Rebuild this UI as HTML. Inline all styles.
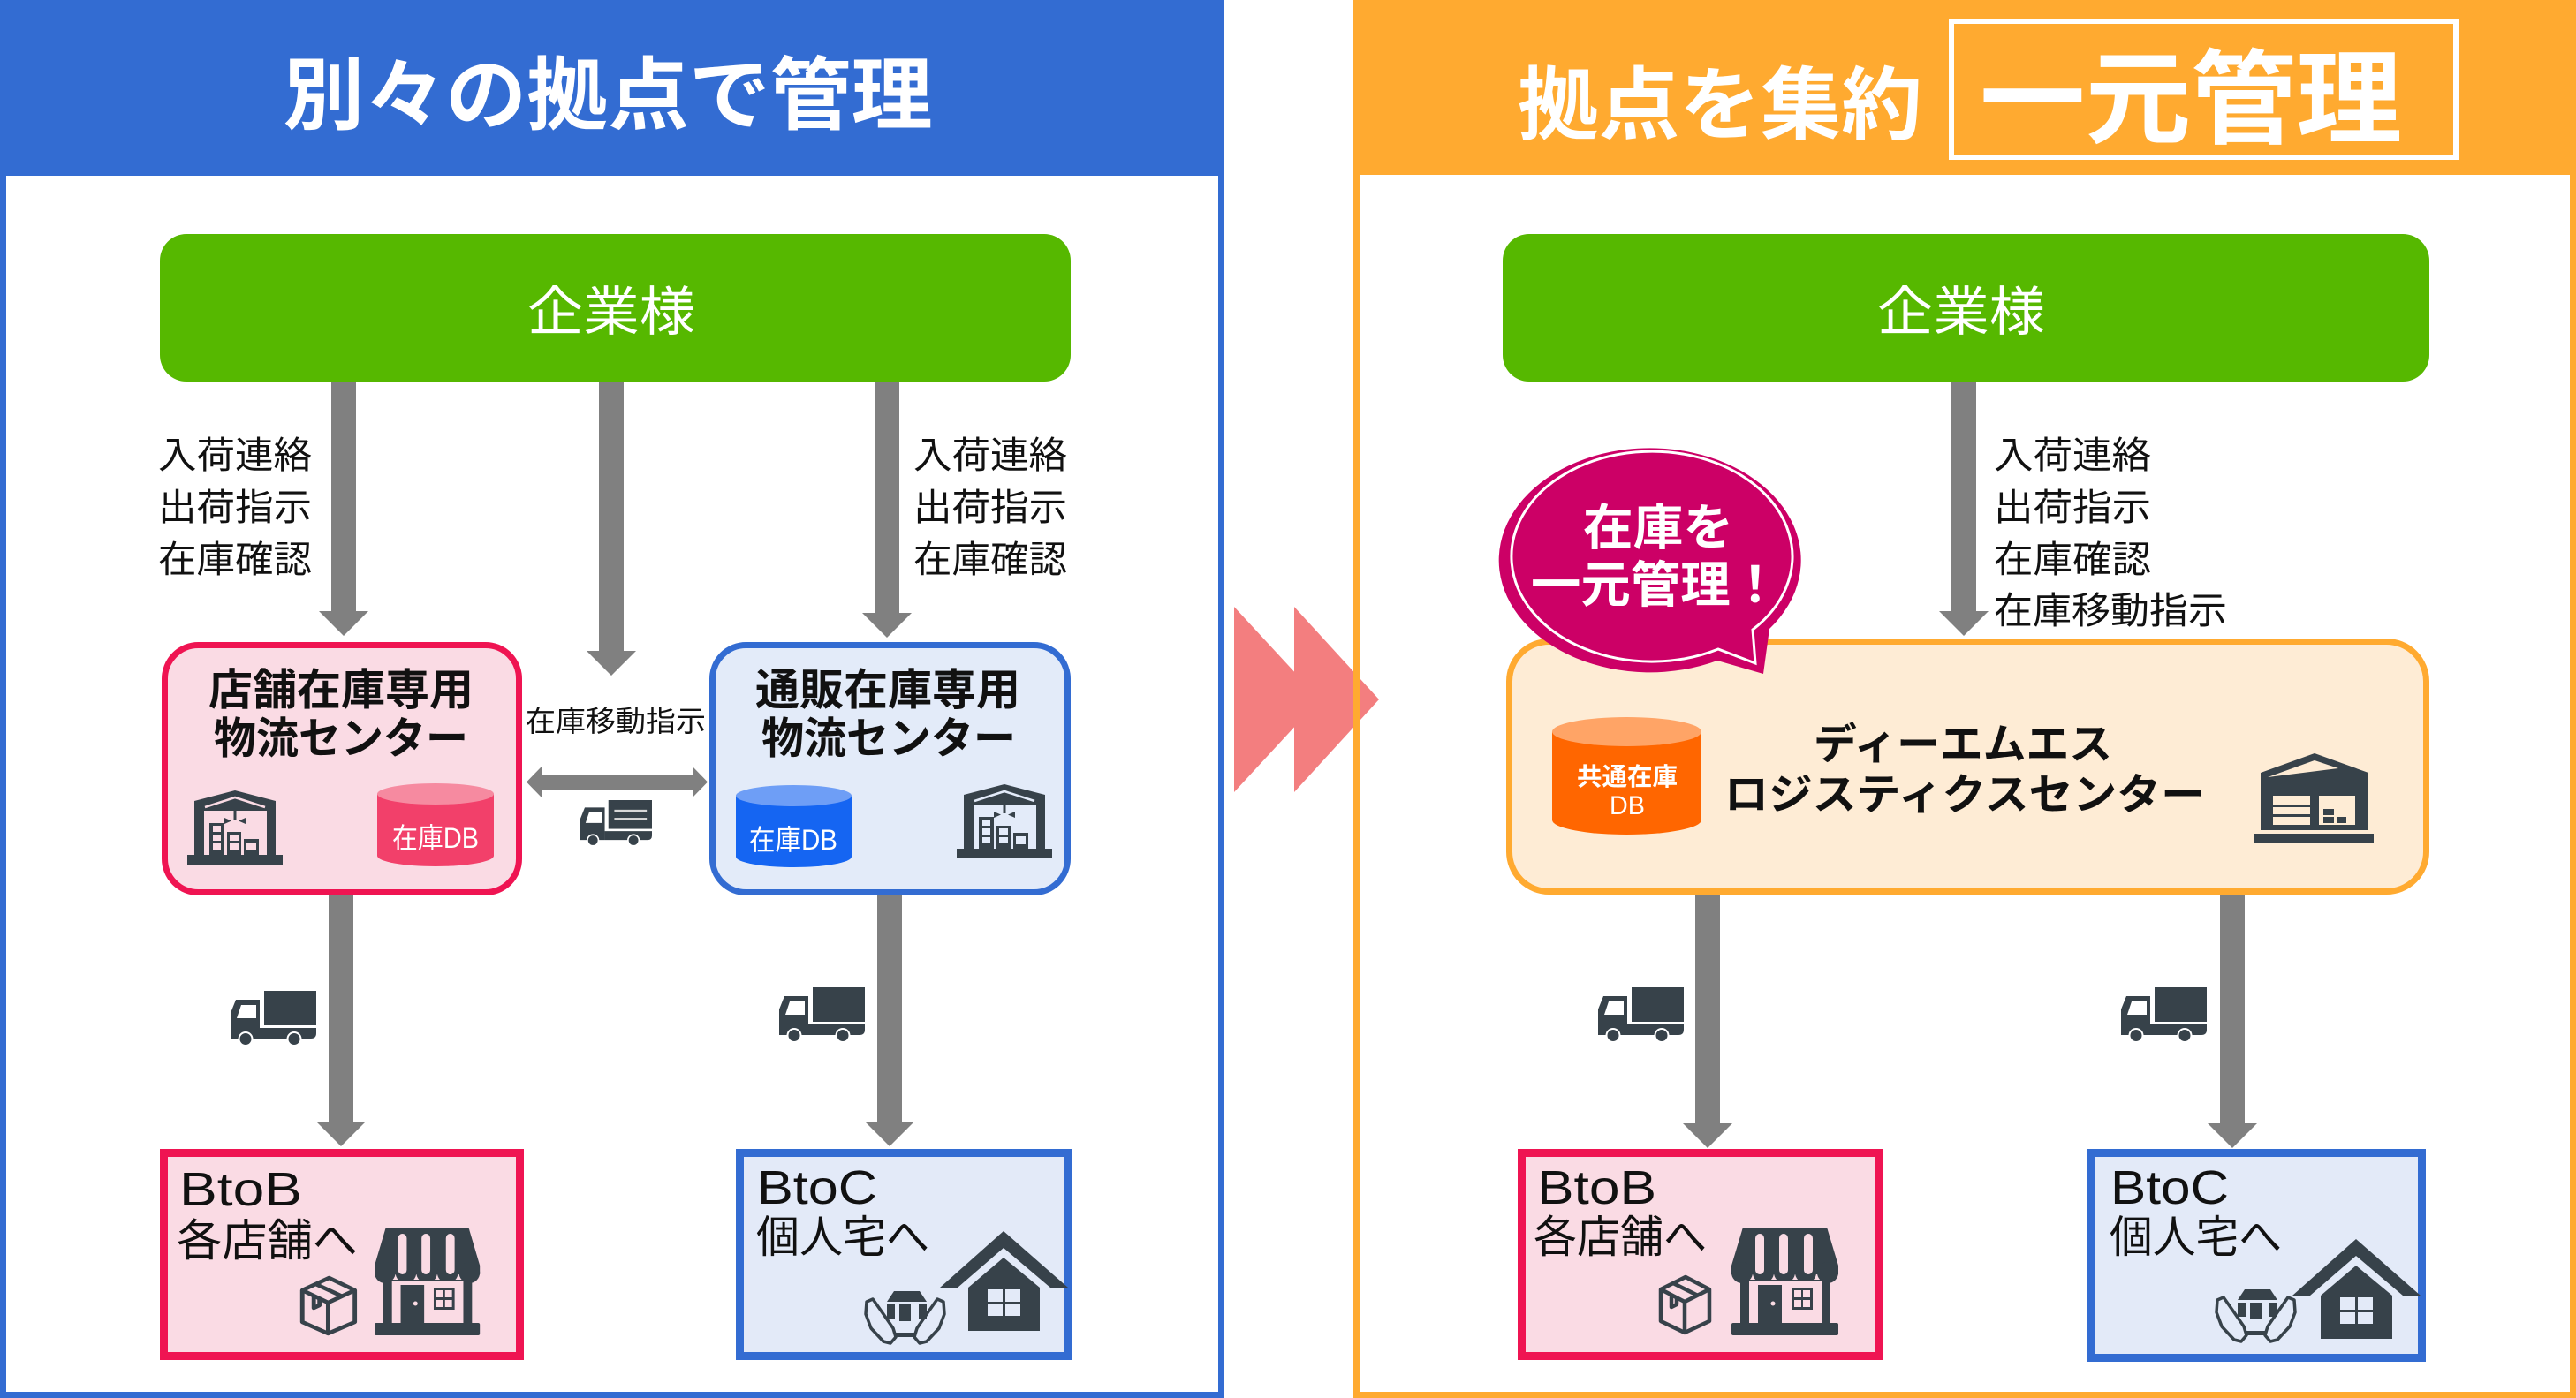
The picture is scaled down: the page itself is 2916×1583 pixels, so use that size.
<!DOCTYPE html>
<html>
<head>
<meta charset="utf-8">
<style>
html,body{margin:0;padding:0;background:#fff;}
svg{display:block;}
text{font-family:"Liberation Sans","Noto Sans CJK JP",sans-serif;}
</style>
</head>
<body>
<svg xmlns="http://www.w3.org/2000/svg" width="2916" height="1583" viewBox="0 0 2916 1583">
<defs>
  <g id="truck">
    <rect x="38" y="0" width="59" height="39" fill="#37424a"/>
    <path d="M6 10 H33 V54 H0 V25 Z" fill="#37424a"/>
    <path d="M12 16 H29 V31 H7 Z" fill="#fff"/>
    <path d="M33 42 H97 V48 Q97 54 91 54 H33 Z" fill="#37424a"/>
    <circle cx="17" cy="54.5" r="7.5" fill="#37424a" stroke="#fff" stroke-width="2"/>
    <circle cx="72" cy="54.5" r="7.5" fill="#37424a" stroke="#fff" stroke-width="2"/>
  </g>
  <g id="whA">
    <rect x="0" y="75" width="108" height="11" fill="#37424a"/>
    <path d="M8 14 L54 2 L100 14 V75 H8 Z" fill="#37424a"/>
    <rect x="19" y="25" width="71" height="50" fill="currentColor"/>
    <path d="M20 21 L54 10 L88 21" stroke="currentColor" stroke-width="2.5" fill="none"/>
    <rect x="52.5" y="25" width="3" height="10" fill="#37424a"/>
    <path d="M42 33 L50 36.5 L42 40 Z M66 33 L58 36.5 L66 40 Z" fill="#37424a"/>
    <rect x="25" y="39" width="17" height="36" fill="#37424a"/>
    <rect x="29" y="42" width="9" height="7" fill="currentColor"/>
    <rect x="29" y="52" width="9" height="7" fill="currentColor"/>
    <rect x="29" y="62" width="9" height="7" fill="currentColor"/>
    <rect x="45" y="49" width="16" height="26" fill="#37424a"/>
    <rect x="48" y="52" width="10" height="7" fill="currentColor"/>
    <rect x="48" y="62" width="10" height="7" fill="currentColor"/>
    <rect x="64" y="57" width="17" height="18" fill="#37424a"/>
    <rect x="67" y="61" width="11" height="9" fill="currentColor"/>
  </g>
  <g id="whB">
    <rect x="0" y="91" width="135" height="11" fill="#37424a"/>
    <path d="M7 22 L68 0 L129 22 V87 H7 Z" fill="#37424a"/>
    <path d="M15 27 L68 8 L95 17 Z" fill="#feecd5"/>
    <rect x="21" y="48" width="42" height="33" fill="#feecd5"/>
    <rect x="21" y="58" width="42" height="3" fill="#37424a"/>
    <rect x="21" y="69" width="42" height="3" fill="#37424a"/>
    <rect x="73" y="48" width="41" height="33" fill="#feecd5"/>
    <rect x="78" y="63" width="12" height="7" fill="#37424a"/>
    <rect x="78" y="72" width="12" height="7" fill="#37424a"/>
    <rect x="93" y="72" width="11" height="7" fill="#37424a"/>
  </g>
  <g id="shop">
    <path d="M12 4 Q12 1 16 1 H105 Q109 1 109 4 L121 44 V54 H0 V44 Z" fill="#37424a"/>
    <circle cx="12" cy="52" r="12" fill="#37424a"/>
    <circle cx="36" cy="52" r="12" fill="#37424a"/>
    <circle cx="60" cy="52" r="12" fill="#37424a"/>
    <circle cx="84" cy="52" r="12" fill="#37424a"/>
    <circle cx="109" cy="52" r="12" fill="#37424a"/>
    <rect x="27" y="8" width="10" height="46" rx="5" fill="currentColor"/>
    <rect x="54" y="8" width="10" height="46" rx="5" fill="currentColor"/>
    <rect x="82" y="8" width="10" height="46" rx="5" fill="currentColor"/>
    <rect x="10" y="60" width="102" height="52" fill="#37424a"/>
    <rect x="20" y="62" width="82" height="48" fill="currentColor"/>
    <rect x="30" y="66" width="27" height="45" fill="#37424a"/>
    <circle cx="47" cy="87" r="2.5" fill="currentColor"/>
    <rect x="68" y="69" width="24" height="25" fill="#37424a"/>
    <rect x="71" y="72" width="8" height="8" fill="currentColor"/>
    <rect x="81" y="72" width="8" height="8" fill="currentColor"/>
    <rect x="71" y="83" width="8" height="8" fill="currentColor"/>
    <rect x="81" y="83" width="8" height="8" fill="currentColor"/>
    <rect x="0" y="109" width="121" height="14" rx="2" fill="#37424a"/>
  </g>
  <g id="box" fill="none" stroke="#37424a" stroke-width="4.5" stroke-linejoin="round">
    <path d="M3 18 L31 4 L58 18 V54 L30 67 L3 54 Z"/>
    <path d="M3 18 L30 32 L58 18"/>
    <path d="M30 32 V67"/>
    <path d="M17 11 L45 25"/>
    <path d="M15 24 V38 L21 35 V27"/>
  </g>
  <g id="house">
    <path d="M0 64 L72 0 L145 64 H125 L72 19 L20 64 Z" fill="#37424a"/>
    <path d="M32 64 L72 30 L113 64 V113 H32 Z" fill="#37424a"/>
    <rect x="54" y="66" width="37" height="30" fill="currentColor"/>
    <rect x="71" y="66" width="3" height="30" fill="#37424a"/>
    <rect x="54" y="80" width="37" height="3" fill="#37424a"/>
  </g>
  <g id="hands">
    <path d="M26 16 L34 4 H63 L71 16 Z" fill="#37424a"/>
    <rect x="26" y="19" width="9" height="16" fill="#37424a"/>
    <rect x="62" y="19" width="9" height="16" fill="#37424a"/>
    <rect x="40" y="19" width="13" height="19" fill="#37424a"/>
    <rect x="36" y="51" width="22" height="5" fill="#37424a"/>
    <path d="M3 16 L10 13 L22 30 L33 46 L36 56 L30 63 L22 61 L8 46 L2 30 Z" fill="none" stroke="#37424a" stroke-width="3.5" stroke-linejoin="round"/>
    <path d="M90 16 L83 13 L71 30 L60 46 L57 56 L63 63 L71 61 L85 46 L91 30 Z" fill="none" stroke="#37424a" stroke-width="3.5" stroke-linejoin="round"/>
  </g>
</defs>

<!-- page background -->
<rect x="0" y="0" width="2916" height="1583" fill="#fff"/>

<!-- Left panel -->
<rect x="0" y="0" width="1386" height="1583" fill="#336cd2"/>
<rect x="7" y="199" width="1372" height="1377" fill="#fff"/>
<text x="688" y="139" font-size="90" font-weight="bold" fill="#fff" text-anchor="middle" textLength="735" lengthAdjust="spacingAndGlyphs">別々の拠点で管理</text>

<!-- Right panel -->
<rect x="1532" y="0" width="1384" height="1583" fill="#ffaa30"/>
<rect x="1539" y="198" width="1370" height="1378" fill="#fff"/>
<text x="1947" y="150" font-size="90" font-weight="bold" fill="#fff" text-anchor="middle" textLength="458" lengthAdjust="spacingAndGlyphs">拠点を集約</text>
<rect x="2209" y="24" width="571" height="154" fill="none" stroke="#fff" stroke-width="6"/>
<text x="2480" y="153" font-size="116" font-weight="bold" fill="#fff" text-anchor="middle" textLength="478" lengthAdjust="spacingAndGlyphs">一元管理</text>

<!-- chevrons -->
<polygon points="1397,687 1494,792 1397,897" fill="#f37e7f"/>
<polygon points="1465,687 1561,792 1465,897" fill="#f37e7f"/>
<rect x="1532" y="600" width="7" height="400" fill="#ffaa30"/>

<!-- arrows -->
<g fill="#808080">
  <path d="M375 432 H403 V692 H417 L389 720 L361 692 H375 Z"/>
  <path d="M678 432 H706 V737 H720 L692 765 L664 737 H678 Z"/>
  <path d="M990 432 H1018 V694 H1032 L1004 722 L976 694 H990 Z"/>
  <path d="M372 1014 H400 V1270 H414 L386 1298 L358 1270 H372 Z"/>
  <path d="M993 1014 H1021 V1270 H1035 L1007 1298 L979 1270 H993 Z"/>
  <path d="M2209 432 H2237 V692 H2251 L2223 720 L2195 692 H2209 Z"/>
  <path d="M1919 1013 H1947 V1272 H1961 L1933 1300 L1905 1272 H1919 Z"/>
  <path d="M2513 1013 H2541 V1272 H2555 L2527 1300 L2499 1272 H2513 Z"/>
  <polygon points="596,885.5 613,868 613,878 784,878 784,868 801,885.5 784,903 784,894 613,894 613,903"/>
</g>

<!-- green boxes -->
<rect x="181" y="265" width="1031" height="167" rx="30" fill="#56b800"/>
<text x="692" y="374" font-size="60" fill="#fff" text-anchor="middle" textLength="190" lengthAdjust="spacingAndGlyphs">企業様</text>
<rect x="1701" y="265" width="1049" height="167" rx="30" fill="#56b800"/>
<text x="2220" y="374" font-size="60" fill="#fff" text-anchor="middle" textLength="190" lengthAdjust="spacingAndGlyphs">企業様</text>

<!-- labels left panel -->
<g font-size="42" fill="#111">
  <text x="179" y="530" textLength="174" lengthAdjust="spacingAndGlyphs">入荷連絡</text>
  <text x="179" y="589" textLength="174" lengthAdjust="spacingAndGlyphs">出荷指示</text>
  <text x="179" y="648" textLength="174" lengthAdjust="spacingAndGlyphs">在庫確認</text>
  <text x="1034" y="530" textLength="174" lengthAdjust="spacingAndGlyphs">入荷連絡</text>
  <text x="1034" y="589" textLength="174" lengthAdjust="spacingAndGlyphs">出荷指示</text>
  <text x="1034" y="648" textLength="174" lengthAdjust="spacingAndGlyphs">在庫確認</text>
  <text x="2257" y="530" textLength="178" lengthAdjust="spacingAndGlyphs">入荷連絡</text>
  <text x="2257" y="589" textLength="178" lengthAdjust="spacingAndGlyphs">出荷指示</text>
  <text x="2257" y="648" textLength="178" lengthAdjust="spacingAndGlyphs">在庫確認</text>
  <text x="2257" y="706" textLength="264" lengthAdjust="spacingAndGlyphs">在庫移動指示</text>
</g>
<text x="595" y="828" font-size="33" fill="#111" textLength="204" lengthAdjust="spacingAndGlyphs">在庫移動指示</text>

<!-- red center box -->
<rect x="186.5" y="730.5" width="401" height="280" rx="38" fill="#fadbe4" stroke="#ef1452" stroke-width="7"/>
<text x="386" y="798" font-size="49" font-weight="bold" fill="#111" text-anchor="middle" textLength="300" lengthAdjust="spacingAndGlyphs">店舗在庫専用</text>
<text x="386" y="853" font-size="49" font-weight="bold" fill="#111" text-anchor="middle" textLength="288" lengthAdjust="spacingAndGlyphs">物流センター</text>
<use href="#whA" transform="translate(212,893)" color="#fadbe4"/>
<path d="M427 899 V969 A66 12 0 0 0 559 969 V899 Z" fill="#f2406a"/>
<ellipse cx="493" cy="899" rx="66" ry="12" fill="#f68aa0"/>
<text x="493" y="960" font-size="32" fill="#fff" text-anchor="middle" textLength="98" lengthAdjust="spacingAndGlyphs">在庫DB</text>

<!-- blue center box -->
<rect x="806.5" y="730.5" width="402" height="280" rx="38" fill="#e3ebf9" stroke="#336cd2" stroke-width="7"/>
<text x="1005" y="798" font-size="49" font-weight="bold" fill="#111" text-anchor="middle" textLength="300" lengthAdjust="spacingAndGlyphs">通販在庫専用</text>
<text x="1006" y="853" font-size="49" font-weight="bold" fill="#111" text-anchor="middle" textLength="288" lengthAdjust="spacingAndGlyphs">物流センター</text>
<use href="#whA" transform="translate(1083,886)" color="#e3ebf9"/>
<path d="M833 901 V970 A65.5 12 0 0 0 964 970 V901 Z" fill="#1565f2"/>
<ellipse cx="898.5" cy="901" rx="65.5" ry="12" fill="#6e9ef6"/>
<text x="898" y="962" font-size="32" fill="#fff" text-anchor="middle" textLength="100" lengthAdjust="spacingAndGlyphs">在庫DB</text>

<!-- small truck with lines -->
<g transform="translate(657,906) scale(0.835)">
  <use href="#truck"/>
  <rect x="46" y="13" width="44" height="3" fill="#d8d8d8"/>
  <rect x="46" y="24" width="44" height="3" fill="#d8d8d8"/>
</g>

<!-- trucks -->
<use href="#truck" transform="translate(261,1122)"/>
<use href="#truck" transform="translate(882,1118)"/>
<use href="#truck" transform="translate(1809,1118)"/>
<use href="#truck" transform="translate(2401,1118)"/>

<!-- Left BtoB -->
<rect x="185.5" y="1305.5" width="403" height="230" fill="#fadbe4" stroke="#ef1452" stroke-width="9"/>
<text x="203" y="1365" font-size="54" fill="#111" textLength="139" lengthAdjust="spacingAndGlyphs">BtoB</text>
<text x="200" y="1422" font-size="50" fill="#111" textLength="205" lengthAdjust="spacingAndGlyphs">各店舗へ</text>
<use href="#shop" transform="translate(424,1389) scale(0.985,1)" color="#fadbe4"/>
<use href="#box" transform="translate(339,1443) scale(1.08,1)"/>

<!-- Left BtoC -->
<rect x="837.5" y="1305.5" width="372" height="230" fill="#e3eaf8" stroke="#336cd2" stroke-width="9"/>
<text x="857" y="1363" font-size="54" fill="#111" textLength="136" lengthAdjust="spacingAndGlyphs">BtoC</text>
<text x="856" y="1418" font-size="50" fill="#111" textLength="196" lengthAdjust="spacingAndGlyphs">個人宅へ</text>
<use href="#house" transform="translate(1064,1394)" color="#e3eaf8"/>
<use href="#hands" transform="translate(978,1458)"/>

<!-- Right orange center box -->
<rect x="1708.5" y="726.5" width="1038" height="283" rx="45" fill="#feecd5" stroke="#ffaa30" stroke-width="7"/>
<path d="M1757 828.5 V928.5 A84.5 16.5 0 0 0 1926 928.5 V828.5 Z" fill="#ff6600"/>
<ellipse cx="1841.5" cy="828.5" rx="84.5" ry="16.5" fill="#ffa466"/>
<text x="1842" y="889" font-size="28" font-weight="bold" fill="#fff" text-anchor="middle" textLength="114" lengthAdjust="spacingAndGlyphs">共通在庫</text>
<text x="1842" y="922" font-size="30" fill="#fff" text-anchor="middle" textLength="40" lengthAdjust="spacingAndGlyphs">DB</text>
<text x="2222" y="859" font-size="48" font-weight="bold" fill="#111" text-anchor="middle" textLength="338" lengthAdjust="spacingAndGlyphs">ディーエムエス</text>
<text x="2224" y="916" font-size="48" font-weight="bold" fill="#111" text-anchor="middle" textLength="544" lengthAdjust="spacingAndGlyphs">ロジスティクスセンター</text>
<use href="#whB" transform="translate(2552,853)"/>

<!-- speech bubble -->
<path d="M1944 748 L1996 763 L2003 712 A171 127 0 1 0 1944 748 Z" fill="#cc0066"/>
<path d="M1945 735 L1987 751 L1984 713 A159 119 0 1 0 1945 735 Z" fill="none" stroke="#fff" stroke-width="3"/>
<text x="1877" y="617" font-size="56" font-weight="bold" fill="#fff" text-anchor="middle" textLength="170" lengthAdjust="spacingAndGlyphs">在庫を</text>
<text x="1874" y="682" font-size="56" font-weight="bold" fill="#fff" text-anchor="middle" textLength="282" lengthAdjust="spacingAndGlyphs">一元管理！</text>

<!-- Right BtoB -->
<rect x="1722.5" y="1305.5" width="404" height="230" fill="#fadbe4" stroke="#ef1452" stroke-width="9"/>
<text x="1740" y="1363" font-size="54" fill="#111" textLength="135" lengthAdjust="spacingAndGlyphs">BtoB</text>
<text x="1736" y="1418" font-size="50" fill="#111" textLength="196" lengthAdjust="spacingAndGlyphs">各店舗へ</text>
<use href="#shop" transform="translate(1960,1389)" color="#fadbe4"/>
<use href="#box" transform="translate(1877,1442)"/>

<!-- Right BtoC -->
<rect x="2366.5" y="1305.5" width="375" height="232" fill="#e3eaf8" stroke="#336cd2" stroke-width="9"/>
<text x="2389" y="1363" font-size="54" fill="#111" textLength="134" lengthAdjust="spacingAndGlyphs">BtoC</text>
<text x="2388" y="1418" font-size="50" fill="#111" textLength="195" lengthAdjust="spacingAndGlyphs">個人宅へ</text>
<use href="#house" transform="translate(2595,1403)" color="#e3eaf8"/>
<use href="#hands" transform="translate(2507,1456)"/>
</svg>
</body>
</html>
